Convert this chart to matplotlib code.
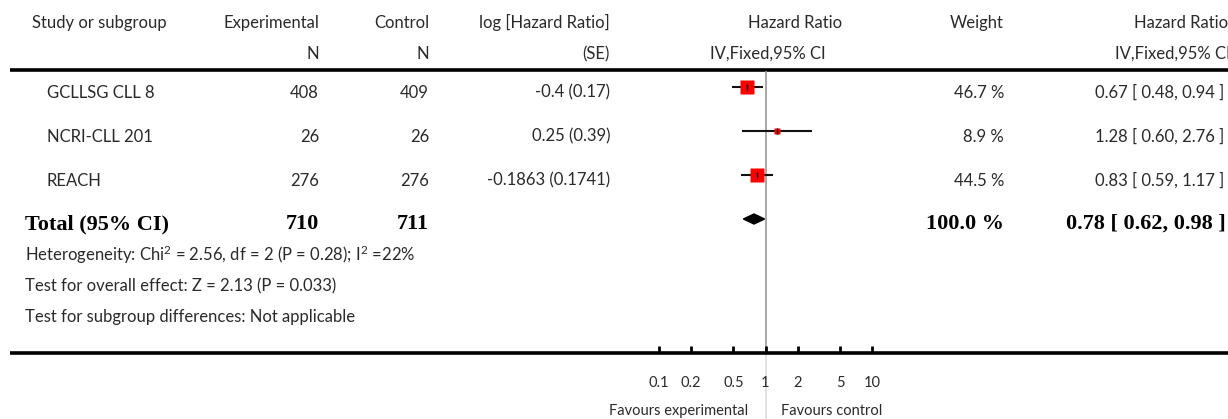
import matplotlib
matplotlib.use("Agg")
import matplotlib.pyplot as plt
from matplotlib.patches import Polygon
import numpy as np

plt.rcParams["mathtext.fontset"] = "custom"
plt.rcParams["mathtext.rm"] = "Lato"
plt.rcParams["mathtext.it"] = "Lato:italic"
plt.rcParams["mathtext.bf"] = "Lato:bold"

# ---------------- data ----------------
studies = ["GCLLSG CLL 8", "NCRI-CLL 201", "REACH"]
exp_n = [408, 26, 276]
ctrl_n = [409, 26, 276]
loghr_se = ["-0.4 (0.17)", "0.25 (0.39)", "-0.1863 (0.1741)"]
hr = [0.67, 1.28, 0.83]
hr_lo = [0.48, 0.60, 0.59]
hr_hi = [0.94, 2.76, 1.17]
weights = [46.7, 8.9, 44.5]

total_label = "Total (95% CI)"
total_exp = 710
total_ctrl = 711
total_weight = 100.0
total_hr = 0.78
total_lo = 0.62
total_hi = 0.98

footer_lines = [
    r"Heterogeneity: Chi$^{\mathrm{2}}$ = 2.56, df = 2 (P = 0.28); I$^{\mathrm{2}}$ =22%",
    "Test for overall effect: Z = 2.13 (P = 0.033)",
    "Test for subgroup differences: Not applicable",
]

tick_vals = [0.1, 0.2, 0.5, 1, 2, 5, 10]
tick_labels = ["0.1", "0.2", "0.5", "1", "2", "5", "10"]

# ---------------- layout ----------------
W, H = 1228, 419
fig = plt.figure(figsize=(W / 100, H / 100), dpi=100)

SANS = ["Lato", "DejaVu Sans"]
SERIF = ["Liberation Serif", "DejaVu Serif"]
TXT = "#2a2a2a"
FS = 12

bg = fig.add_axes([0, 0, 1, 1])
bg.set_xlim(0, W)
bg.set_ylim(H, 0)
bg.axis("off")

# forest axes: log scale, 1 at x=765.5 px, one decade = 106.5 px
cx, dec = 765.5, 106.5
left_px, right_px = cx - 1.5 * dec, cx + 1.5 * dec
fx = fig.add_axes([left_px / W, 0, (right_px - left_px) / W, 1])
fx.set_xscale("log")
fx.set_xlim(10 ** -1.5, 10 ** 1.5)
fx.set_ylim(H, 0)
fx.axis("off")


def t(x, y, s, ha="left", **kw):
    kw.setdefault("fontsize", FS)
    kw.setdefault("family", SANS)
    kw.setdefault("color", TXT)
    bg.text(x, y, s, ha=ha, va="baseline", **kw)


# headers
t(32, 28, "Study or subgroup")
t(319, 28, "Experimental", ha="right")
t(429, 28, "Control", ha="right")
t(610, 28, "log [Hazard Ratio]", ha="right")
t(795, 28, "Hazard Ratio", ha="center")
t(1004, 28, "Weight", ha="right")
t(1134, 28, "Hazard Ratio")
t(319, 59, "N", ha="right")
t(429, 59, "N", ha="right")
t(610, 59, "(SE)", ha="right")
t(768, 59, "IV,Fixed,95% CI", ha="center")
t(1115, 59, "IV,Fixed,95% CI")

# rules
bg.hlines([70, 353], 10, W, color="black", lw=2.6)

# study rows
row0, step = 87, 44
for i, name in enumerate(studies):
    yc = row0 + step * i
    yb = yc + 10.5
    t(47, yb, name)
    t(319, yb, str(exp_n[i]), ha="right")
    t(429, yb, str(ctrl_n[i]), ha="right")
    t(610, yb, loghr_se[i], ha="right")
    t(1004, yb, f"{weights[i]:.1f} %", ha="right")
    t(1224, yb, f"{hr[i]:.2f} [ {hr_lo[i]:.2f}, {hr_hi[i]:.2f} ]", ha="right")
    fx.hlines(yc, hr_lo[i], hr_hi[i], color="#111111", lw=1.5, zorder=3)
    side_px = 2.1 * np.sqrt(weights[i])
    fx.plot(hr[i], yc, marker="s", ms=side_px * 0.72, color="#ff0000",
            mec="none", zorder=4)
    fx.plot(hr[i], yc, marker="|", ms=5, color="black", mew=1, zorder=5)

# total row
yt = row0 + step * 3
tb = yt + 10
sb = dict(family=SERIF, fontsize=16, fontweight="bold", color="black")
t(25, tb, total_label, **sb)
t(319, tb, str(total_exp), ha="right", **sb)
t(429, tb, str(total_ctrl), ha="right", **sb)
t(1004, tb, f"{total_weight:.1f} %", ha="right", **sb)
t(1226, tb, f"{total_hr:.2f} [ {total_lo:.2f}, {total_hi:.2f} ]", ha="right", **sb)
dia = Polygon([(total_lo, yt), (total_hr, yt - 5), (total_hi, yt), (total_hr, yt + 5)],
              closed=True, color="black", zorder=4)
fx.add_patch(dia)

# footer lines
for k, line in enumerate(footer_lines):
    t(25, 261 + 30.5 * k, line)

# reference line at 1
fx.vlines(1, 71, 353, color="#999999", lw=1.2, zorder=2)
fx.vlines(1, 355, H, color="#dddddd", lw=1.2, zorder=2)

# ticks
fx.vlines(tick_vals, 346, 353, color="black", lw=2)
for v, lab in zip(tick_vals, tick_labels):
    fx.text(v, 387, lab, ha="center", va="baseline", fontsize=10.5,
            family=SANS, color=TXT)

fx.text(0.68, 415, "Favours experimental", ha="right", va="baseline",
        fontsize=10.5, family=SANS, color=TXT)
fx.text(1.40, 415, "Favours control", ha="left", va="baseline",
        fontsize=10.5, family=SANS, color=TXT)

fig.savefig("out.png", dpi=100)
